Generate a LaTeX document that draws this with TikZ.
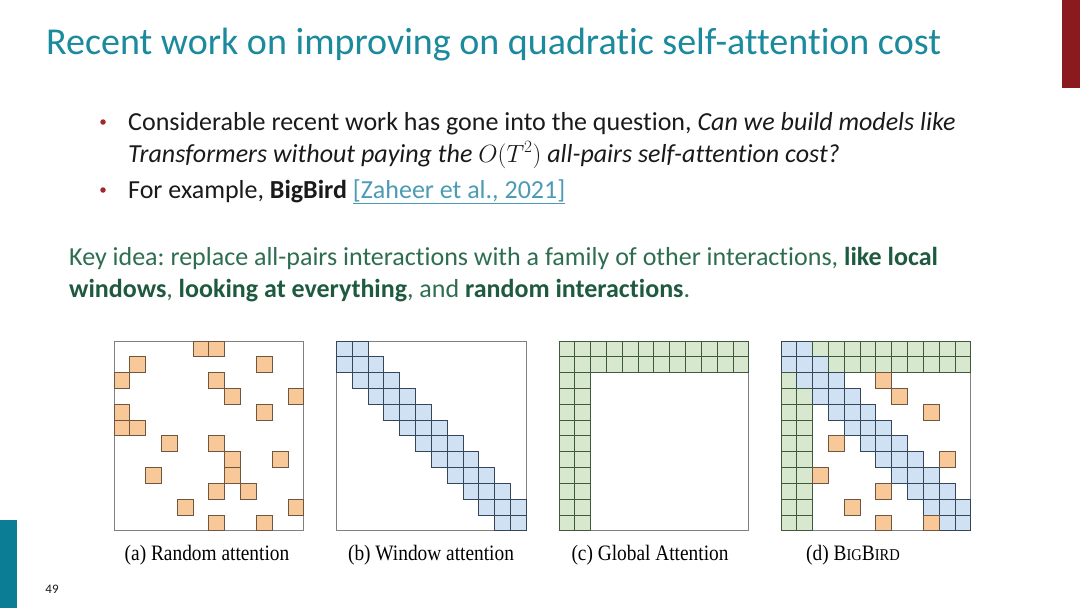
\documentclass[tikz,border=0pt]{standalone}
\usepackage{fontspec}
\setmainfont{Carlito}[Ligatures=NoCommon]
\newfontfamily\capfont{Liberation Serif}
\definecolor{titleC}{HTML}{1A8A9C}
\definecolor{barTeal}{HTML}{0B7E96}
\definecolor{barRed}{HTML}{8B1A1E}
\definecolor{keyC}{HTML}{2E6E50}
\definecolor{keyB}{HTML}{1F5A40}
\definecolor{bulC}{HTML}{A0282D}
\definecolor{linkC}{HTML}{4C9BB5}
\definecolor{textC}{HTML}{1A1A1A}
\definecolor{orF}{HTML}{F8C899}
\definecolor{orD}{HTML}{6E5640}
\definecolor{blF}{HTML}{CFE1F2}
\definecolor{blD}{HTML}{34465A}
\definecolor{grF}{HTML}{D7E8CF}
\definecolor{grD}{HTML}{3D5A3D}
\definecolor{boxC}{HTML}{808080}
\frenchspacing
\begin{document}
\begin{tikzpicture}[x=1pt,y=-1pt,
  txt/.style={anchor=base west, inner sep=0pt, text=textC, font=\fontsize{26}{30}\selectfont},
  keytxt/.style={anchor=base west, inner sep=0pt, text=keyC, font=\fontsize{26}{30}\selectfont},
  captxt/.style={anchor=base, inner sep=0pt, text=black, font=\capfont\fontsize{22}{25}\selectfont},
  bul/.style={circle, fill=bulC, minimum size=5.5pt, inner sep=0pt},
  panelbox/.style={draw=boxC, line width=1pt, fill=white},
  orcell/.style={fill=orF, draw=orD, line width=1pt},
  blcell/.style={fill=blF, draw=blD, line width=1pt},
  grcell/.style={fill=grF, draw=grD, line width=1pt}]
\useasboundingbox (0,0) rectangle (1080,608);
\fill[white] (0,0) rectangle (1080,608);
% side bars
\fill[barRed] (1062,0) rectangle (1080,88);
\fill[barTeal] (0,520) rectangle (17,608);
\node[anchor=base, inner sep=0pt, font=\fontsize{13}{15}\selectfont, text=textC] (pnum) at (52,593) {49};
% title
\node[anchor=base west, inner sep=0pt, text=titleC, font=\fontsize{38}{42}\selectfont] (title) at (46,54) {Recent work on improving on quadratic self-attention cost};
% bullets
\node[bul] (d1) at (103,122) {};
\node[bul] (d2) at (103,190) {};
\node[txt] (l1) at (128,130) {Considerable recent work has gone into the question, \textit{Can we build models like}};
\node[txt] (l2) at (128,162) {\textit{Transformers without paying the \(O(T^2)\) all-pairs self-attention cost?}};
\node[txt] (l3) at (128,198) {For example, \textbf{BigBird} {\color{linkC}\underline{[Zaheer et al., 2021]}}};
% key idea
\node[keytxt] (k1) at (69,265) {Key idea: replace all-pairs interactions with a family of other interactions, {\color{keyB}\textbf{like local}}};
\node[keytxt] (k2) at (69,297) {{\color{keyB}\textbf{windows}}, {\color{keyB}\textbf{looking at everything}}, and {\color{keyB}\textbf{random interactions}}.};
% panel (a) random
\begin{scope}[shift={(114,341)}, x=15.83pt, y=-15.83pt]
  \draw[panelbox] (0,0) rectangle (12,12);
  \foreach \c/\r in {5/0,6/0,1/1,9/1,0/2,6/2,7/3,11/3,0/4,9/4,0/5,1/5,3/6,6/6,7/7,10/7,2/8,7/8,6/9,8/9,4/10,11/10,6/11,9/11}
    \draw[orcell] (\c,\r) rectangle ++(1,1);
\end{scope}
% panel (b) window
\begin{scope}[shift={(336.5,341)}, x=15.83pt, y=-15.83pt]
  \draw[panelbox] (0,0) rectangle (12,12);
  \foreach \r in {0,...,11}{
    \foreach \c in {0,...,11}{
      \pgfmathtruncatemacro\dd{abs(\r-\c)}
      \ifnum\dd<2 \draw[blcell] (\c,\r) rectangle ++(1,1);\fi
    }}
\end{scope}
% panel (c) global
\begin{scope}[shift={(559,341)}, x=15.83pt, y=-15.83pt]
  \draw[panelbox] (0,0) rectangle (12,12);
  \foreach \r in {0,...,11}{
    \foreach \c in {0,...,11}{
      \pgfmathtruncatemacro\isg{(\r<2)||(\c<2)}
      \ifnum\isg=1 \draw[grcell] (\c,\r) rectangle ++(1,1);\fi
    }}
\end{scope}
% panel (d) bigbird
\begin{scope}[shift={(781,341)}, x=15.83pt, y=-15.83pt]
  \draw[panelbox] (0,0) rectangle (12,12);
  \foreach \r in {0,...,11}{
    \foreach \c in {0,...,11}{
      \pgfmathtruncatemacro\dd{abs(\r-\c)}
      \pgfmathtruncatemacro\isg{(\r<2)||(\c<2)}
      \ifnum\dd<2 \draw[blcell] (\c,\r) rectangle ++(1,1);
      \else\ifnum\isg=1 \draw[grcell] (\c,\r) rectangle ++(1,1);\fi\fi
    }}
  \foreach \c/\r in {6/2,7/3,9/4,3/6,10/7,2/8,6/9,4/10,6/11,9/11}
    \draw[orcell] (\c,\r) rectangle ++(1,1);
\end{scope}
% captions
\node[captxt] (ca) at (207,560) {\scalebox{0.88}[1]{(a) Random attention}};
\node[captxt] (cb) at (431,560) {\scalebox{0.88}[1]{(b) Window attention}};
\node[captxt] (cc) at (650,560) {\scalebox{0.88}[1]{(c) Global Attention}};
\node[captxt] (cd) at (853,560) {\scalebox{0.88}[1]{(d) B{\fontsize{16.5}{18}\selectfont IG}B{\fontsize{16.5}{18}\selectfont IRD}}};
\end{tikzpicture}
\end{document}
